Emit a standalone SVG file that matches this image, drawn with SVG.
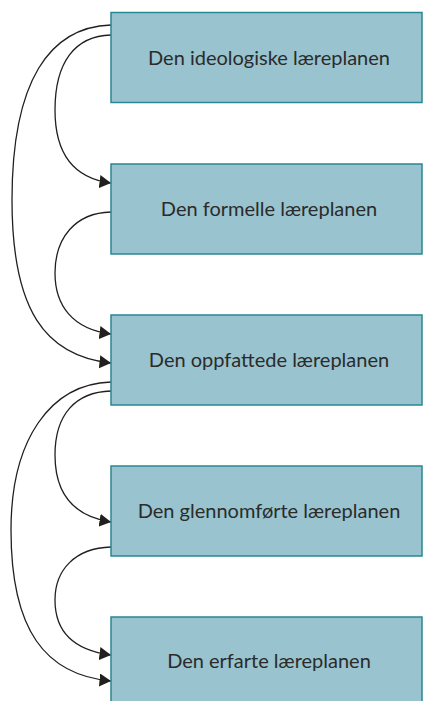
<svg xmlns="http://www.w3.org/2000/svg" width="423" height="701" viewBox="0 0 423 701">
  <defs>
    <marker id="arrow" markerUnits="userSpaceOnUse" markerWidth="13" markerHeight="14" refX="11.5" refY="6.5" orient="auto">
      <path d="M0,0 L11.5,6.5 L0,13 z" fill="#231f20"/>
    </marker>
    <style>
      .box { fill: #98c3cf; stroke: #2a8794; stroke-width: 1.5; }
      .label { font-family: Lato, "Open Sans", sans-serif; font-size: 20px; fill: #2b2b2b; text-anchor: middle; }
      .link { fill: none; stroke: #231f20; stroke-width: 1.3; marker-end: url(#arrow); }
    </style>
  </defs>
  <rect width="423" height="701" fill="#ffffff"/>

  <g id="connectors">
    <!-- ideologisk -> formell -->
    <path class="link" d="M111,35 C75,36 55,62 55,110 C55,152 72,178 111,183"/>
    <!-- ideologisk -> oppfattet -->
    <path class="link" d="M111,25 C50,27 12,80 12,200 C12,310 45,356 111,363"/>
    <!-- formell -> oppfattet -->
    <path class="link" d="M111,212 C75,213 55,238 55,273 C55,305 72,329 111,334"/>
    <!-- oppfattet -> gjennomført -->
    <path class="link" d="M111,391 C75,392 55,415 55,455 C55,492 72,516 111,522"/>
    <!-- oppfattet -> erfart -->
    <path class="link" d="M111,382 C50,384 11,440 11,530 C11,630 45,675 111,681"/>
    <!-- gjennomført -> erfart -->
    <path class="link" d="M111,547 C75,548 55,570 55,600 C55,630 72,650 111,655"/>
  </g>

  <g id="node-ideologisk">
    <rect class="box" x="111" y="12.5" width="311" height="90"/>
    <text class="label" x="269" y="65">Den ideologiske læreplanen</text>
  </g>
  <g id="node-formell">
    <rect class="box" x="111" y="164" width="311" height="90"/>
    <text class="label" x="269" y="216">Den formelle læreplanen</text>
  </g>
  <g id="node-oppfattet">
    <rect class="box" x="111" y="315" width="311" height="90"/>
    <text class="label" x="269" y="367">Den oppfattede læreplanen</text>
  </g>
  <g id="node-gjennomfort">
    <rect class="box" x="111" y="466" width="311" height="90"/>
    <text class="label" x="269" y="518">Den glennomførte læreplanen</text>
  </g>
  <g id="node-erfart">
    <rect class="box" x="111" y="617" width="311" height="95"/>
    <text class="label" x="269" y="668">Den erfarte læreplanen</text>
  </g>
</svg>
